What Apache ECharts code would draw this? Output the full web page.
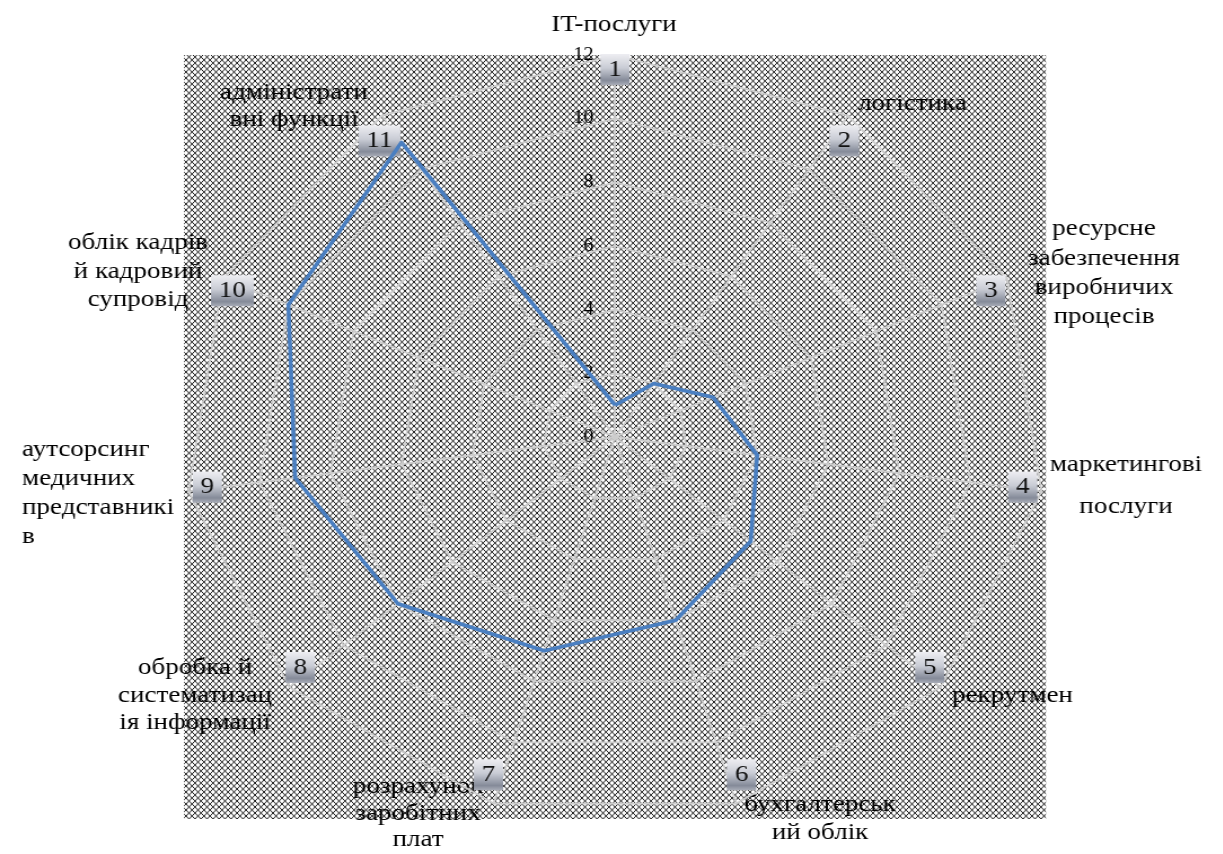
<!DOCTYPE html>
<html>
<head>
<meta charset="utf-8">
<script src="https://cdn.jsdelivr.net/npm/echarts@6/dist/echarts.min.js"></script>
<style>
  html, body { margin: 0; padding: 0; background: #fff; overflow: hidden; }
  #chart { position: absolute; left: 0; top: 0; height: 854px; transform-origin: 0 0; }
</style>
</head>
<body>
<div id="chart"></div>
<script>
// Axis categories (numbered markers), their service names and scores
const categories = ['1', '2', '3', '4', '5', '6', '7', '8', '9', '10', '11'];
const serviceNames = [
  'IT-послуги',
  'логістика',
  'ресурсне\nзабезпечення\nвиробничих\nпроцесів',
  'маркетингові\nпослуги',
  'рекрутмен',
  'бухгалтерськ\nий облік',
  'розрахунок\nзаробітних\nплат',
  'обробка й\nсистематизац\nія інформації',
  'аутсорсинг\nмедичних\nпредставникі\nв',
  'облік кадрів\nй кадровий\nсупровід',
  'адміністрати\nвні функції'
];
const scores = [1, 2, 3, 4, 5, 6, 7, 8, 9, 10, 11];
const scaleMin = 0;
const scaleMax = 12;
const scaleStep = 2;

// Layout: the drawing is stretched horizontally by K
const K = 1.128;
const PAGE_W = 1223;
const CX = 615 / K, CY = 437, R = 382;
const FONT = '"Liberation Serif", "DejaVu Serif", serif';

// Where each service name sits on the page (page pixels, first line centre)
const namePlacement = [
  { x: 614, y: 25, align: 'center', lh: 28 },
  { x: 858, y: 104, align: 'left', lh: 28 },
  { x: 1104, y: 229, align: 'center', lh: 29.3 },
  { x: 1126, y: 465, align: 'center', lh: 42 },
  { x: 952, y: 696, align: 'left', lh: 28 },
  { x: 820, y: 805, align: 'center', lh: 28 },
  { x: 418, y: 787, align: 'center', lh: 26.5 },
  { x: 195, y: 668, align: 'center', lh: 27.5 },
  { x: 22, y: 450, align: 'left', lh: 29 },
  { x: 138, y: 243, align: 'center', lh: 28.5 },
  { x: 294, y: 93, align: 'center', lh: 27 }
];

const el = document.getElementById('chart');
el.style.width = (PAGE_W / K) + 'px';
el.style.transform = 'scaleX(' + K + ')';

// Cross-hatch tile for the plot background. The tile is pre-compressed
// horizontally so that the hatch comes out at 45 degrees once stretched.
const HATCH = 6;                       // hatch period on the page, px
const periods = 47;
const tileW = Math.round(HATCH * periods / K);
const tile = document.createElement('canvas');
tile.width = tileW; tile.height = HATCH;
const tctx = tile.getContext('2d');
tctx.fillStyle = '#ffffff';
tctx.fillRect(0, 0, tileW, HATCH);
tctx.strokeStyle = '#141414';
tctx.lineWidth = 0.95;
for (let n = -1; n <= periods + 1; n++) {
  const x0 = n * HATCH;
  tctx.beginPath();
  tctx.moveTo(x0 / K, 0); tctx.lineTo((x0 + HATCH) / K, HATCH);
  tctx.stroke();
  tctx.beginPath();
  tctx.moveTo((x0 + HATCH) / K, 0); tctx.lineTo(x0 / K, HATCH);
  tctx.stroke();
}

// Clockwise order: first axis at the top, the rest going to the right
const order = [0].concat(categories.map(function (_, i) { return i; }).slice(1).reverse());

const markerFill = {
  type: 'linear', x: 0, y: 0, x2: 0, y2: 1,
  colorStops: [
    { offset: 0, color: '#eeeef2' },
    { offset: 0.45, color: '#c9ccd5' },
    { offset: 0.85, color: '#858b99' },
    { offset: 1, color: '#a9adb8' }
  ]
};

const indicators = order.map(function (i) {
  const ind = { name: categories[i], min: scaleMin, max: scaleMax };
  if (i === 0) {
    ind.axisLabel = {
      show: true, margin: 19, fontSize: 18, color: '#000',
      fontFamily: FONT
    };
  }
  return ind;
});

const textGraphics = serviceNames.map(function (name, i) {
  const p = namePlacement[i];
  return {
    type: 'text',
    x: p.x / K,
    y: p.y - p.lh / 2,
    silent: true,
    style: {
      text: name,
      fontSize: 24,
      fontFamily: FONT,
      fill: '#000',
      align: p.align,
      verticalAlign: 'top',
      lineHeight: p.lh
    }
  };
});

const chart = echarts.init(el, null, { renderer: 'canvas' });
chart.setOption({
  animation: false,
  backgroundColor: '#ffffff',
  graphic: [{
    type: 'rect',
    z: -10,
    silent: true,
    shape: { x: CX - R, y: CY - R, width: 2 * R, height: 2 * R },
    style: { fill: { image: tile, repeat: 'repeat', imageWidth: tileW, imageHeight: HATCH } }
  }].concat(textGraphics),
  radar: {
    center: [CX, CY],
    radius: R,
    startAngle: 90,
    shape: 'polygon',
    splitNumber: (scaleMax - scaleMin) / scaleStep,
    indicator: indicators,
    nameGap: -30,
    axisName: {
      color: '#111',
      fontSize: 24,
      fontFamily: FONT,
      backgroundColor: markerFill,
      padding: [4, 7, 3, 7]
    },
    splitArea: { show: false },
    splitLine: { lineStyle: { color: '#cdcdcd', width: 1.8 } },
    axisLine: { lineStyle: { color: '#cdcdcd', width: 1.8 } },
    axisTick: { show: false },
    axisLabel: { show: false }
  },
  series: [{
    type: 'radar',
    symbol: 'none',
    silent: true,
    lineStyle: { color: '#4a7fc1', width: 3.6 },
    data: [{ name: 'оцінка', value: order.map(function (i) { return scores[i]; }) }]
  }]
});
</script>
</body>
</html>
